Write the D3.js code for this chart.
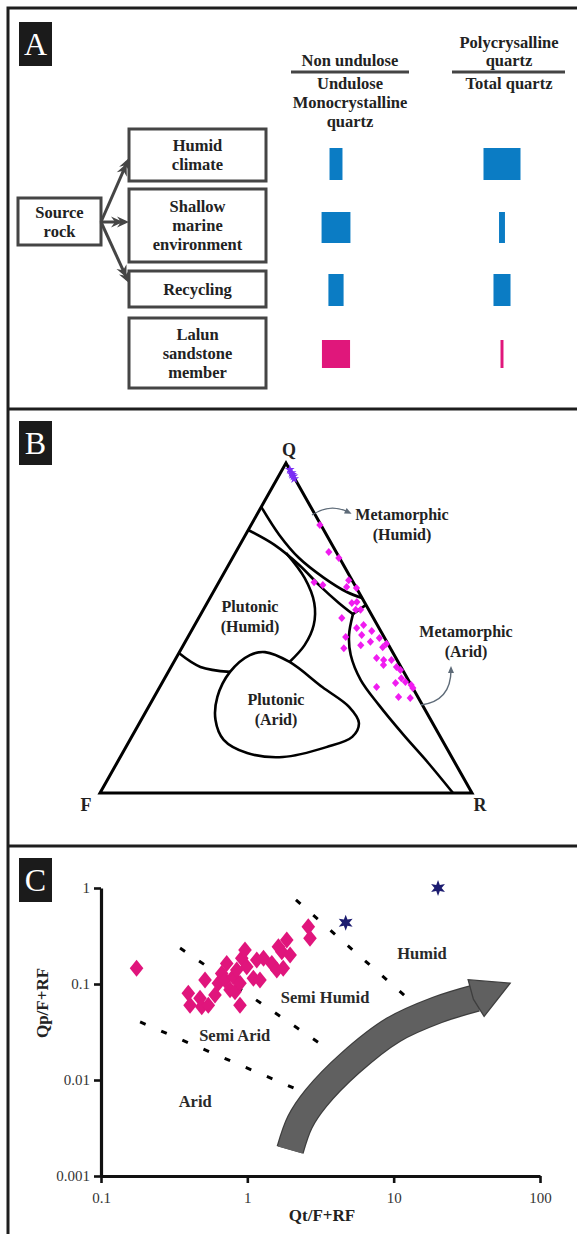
<!DOCTYPE html>
<html>
<head>
<meta charset="utf-8">
<script src="https://cdn.jsdelivr.net/npm/d3@7"></script>
<style>
  body { margin: 0; background: #fff; }
  svg text { font-family: "Liberation Serif", "Times New Roman", serif; }
</style>
</head>
<body>
<div id="fig"></div>
<script>
// ---------- data ----------
// panel A: relative quartz ratios for each setting
var processLines = [["Humid", "climate"], ["Shallow", "marine", "environment"], ["Recycling"], ["Lalun", "sandstone", "member"]];
var nonUndulose = [0.35, 0.78, 0.41, 0.76];
var polyQuartz = [1.0, 0.16, 0.46, 0.08];
var barColors = ["#0b7cc4", "#0b7cc4", "#0b7cc4", "#e0177b"];

// panel B: samples as [Q, R] percent (F = 100 - Q - R)
var lalunQR = [
  [81.2, 18.5], [73.0, 25.0], [71.2, 28.6], [63.9, 25.6], [63.0, 28.4], [64.5, 34.6],
  [62.4, 35.1], [62.1, 37.9], [57.9, 40.1], [55.5, 41.0], [57.6, 38.9], [55.5, 42.3],
  [53.0, 38.5], [50.0, 44.0], [50.9, 45.4], [49.1, 48.5], [47.3, 42.4], [47.9, 46.4],
  [47.0, 51.6], [43.9, 43.6], [44.8, 47.7], [45.8, 49.8], [44.2, 53.9], [45.2, 54.4],
  [40.9, 53.9], [40.3, 56.1], [40.3, 58.2], [38.8, 56.8], [38.2, 60.6], [37.3, 62.1],
  [34.8, 63.6], [33.3, 62.8], [32.1, 58.3], [32.7, 67.3], [31.8, 68.2], [29.1, 65.7],
  [28.8, 69.0], [33.6, 65.3]
];
var quartzAreniteQR = [[98, 2], [97, 3], [96.5, 3.4], [96, 4], [95.2, 4.6]];

// panel B: field boundaries as [Q, R] percent
var metHumidUpper = [[86.7, 0], [78.2, 9.1], [71.2, 17.9], [65.2, 27.6], [60.9, 35.9], [59.1, 40.9]];
var metHumidLower = [[79.7, 0], [75.2, 9.3], [69.1, 19.0], [63.0, 27.4], [57.6, 35.4], [54.2, 40.9]];
var junction = [[54.2, 40.9], [57.0, 43.0]];
var metAridEdge = [[54.2, 40.9], [47.9, 43.0], [41.8, 46.5], [34.2, 53.0], [26.7, 61.6], [17.6, 72.8], [9.1, 83.7], [0, 94.9]];
var plutHumidBase = [[42.4, 0], [38.2, 7.9], [36.7, 16.6]];
var plutHumidEdge = [[72.7, 13.7], [65.2, 22.4], [57.6, 28.8], [50.9, 32.0], [44.8, 32.6], [39.7, 31.1]];
var plutArid = [[41.8, 19.4], [36.7, 16.6], [29.1, 17.0], [22.1, 20.0], [16.1, 25.2], [12.1, 33.5],
  [10.9, 43.7], [13.9, 53.9], [17.0, 59.3], [21.2, 59.0], [26.1, 53.9], [32.1, 43.7], [39.7, 31.1], [42.7, 23.0]];

// panel C: Qt/F+RF vs Qp/F+RF
var qtRatio = [0.175, 0.395, 0.406, 0.475, 0.514, 0.488, 0.541, 0.601, 0.634, 0.668, 0.704, 0.723,
  0.762, 0.802, 0.824, 0.847, 0.891, 0.891, 0.916, 0.964, 0.991, 1.10, 1.16, 1.22, 1.29, 1.47,
  1.59, 1.63, 1.72, 1.76, 1.86, 1.96, 2.61, 2.68];
var qpRatio = [0.146, 0.080, 0.060, 0.071, 0.110, 0.058, 0.060, 0.077, 0.102, 0.129, 0.110, 0.164,
  0.087, 0.119, 0.083, 0.140, 0.102, 0.060, 0.185, 0.226, 0.151, 0.115, 0.178, 0.110, 0.185, 0.164,
  0.140, 0.245, 0.217, 0.146, 0.287, 0.200, 0.395, 0.299];
var starQt = [4.7, 20.1];
var starQp = [0.435, 1.0];
var climateLines = [
  [[2.15, 0.75], [12.4, 0.0715]],
  [[0.347, 0.237], [3.24, 0.0232]],
  [[0.185, 0.0402], [2.15, 0.00806]]
];
var climateLabels = [["Humid", 15.6, 0.21], ["Semi Humid", 3.4, 0.073], ["Semi Arid", 0.82, 0.029], ["Arid", 0.44, 0.0059]];
var trendPath = [[1.96, 0.00187], [2.29, 0.00365], [2.95, 0.00649], [5.04, 0.015], [9.9, 0.0332], [19.8, 0.0536], [36.6, 0.0715]];
var trendTip = [62.5, 0.102];
var xTicks = [0.1, 1, 10, 100];
var yTicks = [0.001, 0.01, 0.1, 1];

// ---------- drawing ----------
var width = 577, height = 1234;
var svg = d3.select("#fig").append("svg").attr("width", width).attr("height", height);
svg.append("rect").attr("width", width).attr("height", height).attr("fill", "#fff");

var ink = "#1e1e1e";
var bold = function(sel, size) { return sel.attr("font-weight", "bold").attr("font-size", size).attr("fill", "#222"); };

// panel frames
svg.append("path").attr("d", "M8," + height + "V8H" + width)
  .attr("fill", "none").attr("stroke", ink).attr("stroke-width", 3);
[409, 846].forEach(function(y) {
  svg.append("line").attr("x1", 8).attr("x2", width).attr("y1", y).attr("y2", y)
    .attr("stroke", ink).attr("stroke-width", 3);
});
[["A", 22], ["B", 421], ["C", 858]].forEach(function(p) {
  svg.append("rect").attr("x", 19).attr("y", p[1]).attr("width", 33).attr("height", 44).attr("fill", "#1b1b1b");
  svg.append("text").attr("x", 35.5).attr("y", p[1] + 33).attr("text-anchor", "middle")
    .attr("font-size", 32).attr("fill", "#fff").text(p[0]);
});

// ===== panel A =====
var gA = svg.append("g");
var headers = [
  { cx: 350, top: ["Non undulose"], bottom: ["Undulose", "Monocrystalline", "quartz"], x1: 291, x2: 409 },
  { cx: 509, top: ["Polycrysalline", "quartz"], bottom: ["Total quartz"], x1: 452, x2: 565 }
];
headers.forEach(function(h) {
  h.top.forEach(function(t, i) {
    bold(gA.append("text"), 16.5).attr("x", h.cx).attr("y", 66 - (h.top.length - 1 - i) * 18)
      .attr("text-anchor", "middle").text(t);
  });
  gA.append("line").attr("x1", h.x1).attr("x2", h.x2).attr("y1", 72).attr("y2", 72)
    .attr("stroke", "#444").attr("stroke-width", 3);
  h.bottom.forEach(function(t, i) {
    bold(gA.append("text"), 16.5).attr("x", h.cx).attr("y", 89 + i * 19)
      .attr("text-anchor", "middle").text(t);
  });
});

var boxX = 129, boxW = 137;
var boxY = [129, 189, 271, 318], boxH = [52, 73, 36, 70];
var boxStroke = "#454545";
processLines.forEach(function(lines, i) {
  gA.append("rect").attr("x", boxX).attr("y", boxY[i]).attr("width", boxW).attr("height", boxH[i])
    .attr("fill", "none").attr("stroke", boxStroke).attr("stroke-width", 3);
  var cy = boxY[i] + boxH[i] / 2;
  lines.forEach(function(t, j) {
    bold(gA.append("text"), 16.5).attr("x", boxX + boxW / 2)
      .attr("y", cy - (lines.length - 1) * 9.5 + 5.5 + j * 19).attr("text-anchor", "middle").text(t);
  });
});
gA.append("rect").attr("x", 18).attr("y", 198).attr("width", 83).attr("height", 47)
  .attr("fill", "none").attr("stroke", boxStroke).attr("stroke-width", 3);
["Source", "rock"].forEach(function(t, j) {
  bold(gA.append("text"), 16.5).attr("x", 59.5).attr("y", 217.5 + j * 19).attr("text-anchor", "middle").text(t);
});

// arrows from source rock to each setting
function chevron(g, x, y, ang) {
  var pts = [[0, 0], [-12, -5.5], [-8, 0], [-12, 5.5]].map(function(p) {
    return [x + p[0] * Math.cos(ang) - p[1] * Math.sin(ang), y + p[0] * Math.sin(ang) + p[1] * Math.cos(ang)];
  });
  g.append("path").attr("d", "M" + pts.join("L") + "Z").attr("fill", boxStroke);
}
var arrowEnds = [[boxX, 158], [boxX, 222], [boxX, 283]];
arrowEnds.forEach(function(e) {
  var sx = 101, sy = 222;
  var ang = Math.atan2(e[1] - sy, e[0] - sx);
  gA.append("line").attr("x1", sx).attr("y1", sy).attr("x2", e[0] - 4 * Math.cos(ang)).attr("y2", e[1] - 4 * Math.sin(ang))
    .attr("stroke", boxStroke).attr("stroke-width", 3);
  chevron(gA, e[0], e[1], ang);
  chevron(gA, e[0] - 6 * Math.cos(ang), e[1] - 6 * Math.sin(ang), ang);
});

// ratio bars
var barW = d3.scaleLinear().domain([0, 1]).range([0, 37]);
var barY = [148, 212, 274, 340], barH = [32, 31, 32, 28];
[[nonUndulose, 336], [polyQuartz, 502]].forEach(function(col) {
  gA.selectAll(null).data(col[0]).enter().append("rect")
    .attr("x", function(d) { return col[1] - barW(d) / 2; })
    .attr("y", function(d, i) { return barY[i]; })
    .attr("width", function(d) { return barW(d); })
    .attr("height", function(d, i) { return barH[i]; })
    .attr("fill", function(d, i) { return barColors[i]; });
});

// ===== panel B: QFR ternary =====
var gB = svg.append("g");
var qScale = d3.scaleLinear().domain([0, 100]).range([793, 463]);
var sScale = d3.scaleLinear().domain([0, 100]).range([100, 472]);
function tern(d) { return [sScale(d[1] + d[0] / 2), qScale(d[0])]; }
var straight = d3.line().x(function(d) { return tern(d)[0]; }).y(function(d) { return tern(d)[1]; });
var curvy = d3.line().x(function(d) { return tern(d)[0]; }).y(function(d) { return tern(d)[1]; })
  .curve(d3.curveCatmullRom.alpha(0.5));
var closedCurvy = d3.line().x(function(d) { return tern(d)[0]; }).y(function(d) { return tern(d)[1]; })
  .curve(d3.curveCatmullRomClosed.alpha(0.5));

gB.append("path").attr("d", straight([[100, 0], [0, 0], [0, 100]]) + "Z")
  .attr("fill", "none").attr("stroke", "#000").attr("stroke-width", 3).attr("stroke-linejoin", "miter");

[metHumidUpper, metHumidLower, metAridEdge, plutHumidBase, plutHumidEdge].forEach(function(c) {
  gB.append("path").attr("d", curvy(c)).attr("fill", "none").attr("stroke", "#000").attr("stroke-width", 2.6);
});
gB.append("path").attr("d", straight(junction))
  .attr("fill", "none").attr("stroke", "#000").attr("stroke-width", 2.6);
gB.append("path").attr("d", closedCurvy(plutArid))
  .attr("fill", "none").attr("stroke", "#000").attr("stroke-width", 2.6);

// samples
gB.selectAll(".lal").data(lalunQR).enter().append("path")
  .attr("d", "M0,-4L3.6,0L0,4L-3.6,0Z")
  .attr("transform", function(d) { return "translate(" + tern(d) + ")"; })
  .attr("fill", "#f01cf0");
var smallStar = d3.symbol().type(d3.symbolStar).size(30);
gB.selectAll(".qa").data(quartzAreniteQR).enter().append("path")
  .attr("d", smallStar())
  .attr("transform", function(d) { return "translate(" + tern(d) + ")"; })
  .attr("fill", "#7a2cf5");

// labels
bold(gB.append("text"), 18).attr("x", 289).attr("y", 456).attr("text-anchor", "middle").text("Q");
bold(gB.append("text"), 18).attr("x", 86).attr("y", 811).attr("text-anchor", "middle").text("F");
bold(gB.append("text"), 18).attr("x", 480).attr("y", 811).attr("text-anchor", "middle").text("R");
[["Metamorphic", "(Humid)", 402, 520], ["Plutonic", "(Humid)", 250, 612], ["Plutonic", "(Arid)", 276, 705], ["Metamorphic", "(Arid)", 466, 637]]
  .forEach(function(l) {
    bold(gB.append("text"), 16).attr("x", l[2]).attr("y", l[3]).attr("text-anchor", "middle").text(l[0]);
    bold(gB.append("text"), 16).attr("x", l[2]).attr("y", l[3] + 20).attr("text-anchor", "middle").text(l[1]);
  });
// pointer arrows
var pointerCol = "#5e6b78";
[["M312,515Q330,503 348,512", 348, 512, 0.45], ["M421,705Q451,701 451,670", 451, 670, -1.57]].forEach(function(p) {
  gB.append("path").attr("d", p[0]).attr("fill", "none").attr("stroke", pointerCol).attr("stroke-width", 1.4);
  var a = p[3], x = p[1], y = p[2];
  gB.append("path").attr("d", "M" + (x + 4 * Math.cos(a)) + "," + (y + 4 * Math.sin(a)) +
      "L" + (x - 3 * Math.cos(a) - 3 * Math.sin(a)) + "," + (y - 3 * Math.sin(a) + 3 * Math.cos(a)) +
      "L" + (x - 3 * Math.cos(a) + 3 * Math.sin(a)) + "," + (y - 3 * Math.sin(a) - 3 * Math.cos(a)) + "Z")
    .attr("fill", pointerCol);
});

// ===== panel C: log-log =====
var gC = svg.append("g");
var xC = d3.scaleLog().domain([0.1, 100]).range([101, 540]);
var yC = d3.scaleLog().domain([0.001, 1]).range([1176, 888]);

// climate boundaries
gC.selectAll(".dl").data(climateLines).enter().append("line")
  .attr("x1", function(d) { return xC(d[0][0]); }).attr("y1", function(d) { return yC(d[0][1]); })
  .attr("x2", function(d) { return xC(d[1][0]); }).attr("y2", function(d) { return yC(d[1][1]); })
  .attr("stroke", "#000").attr("stroke-width", 3).attr("stroke-dasharray", "6,17");

climateLabels.forEach(function(l) {
  bold(gC.append("text"), 16.5).attr("x", xC(l[1])).attr("y", yC(l[2]) + 5.5)
    .attr("text-anchor", "middle").attr("fill", "#2a2a2a").text(l[0]);
});

// trend arrow
var trendLine = d3.line().x(function(d) { return xC(d[0]); }).y(function(d) { return yC(d[1]); })
  .curve(d3.curveCatmullRom.alpha(0.5));
gC.append("path").attr("d", trendLine(trendPath)).attr("fill", "none").attr("stroke", "#3e3e3e").attr("stroke-width", 28);
gC.append("path").attr("d", trendLine(trendPath)).attr("fill", "none").attr("stroke", "#606060").attr("stroke-width", 25.5);
(function() {
  var e = trendPath[trendPath.length - 1];
  var bx = xC(e[0]), by = yC(e[1]), tx = xC(trendTip[0]), ty = yC(trendTip[1]);
  var a = Math.atan2(ty - by, tx - bx), hw = 20;
  var pts = [[tx, ty], [bx + hw * Math.sin(a), by - hw * Math.cos(a)], [bx - 3 * Math.cos(a), by - 3 * Math.sin(a)], [bx - hw * Math.sin(a), by + hw * Math.cos(a)]];
  gC.append("path").attr("d", "M" + pts.join("L") + "Z").attr("fill", "#606060")
    .attr("stroke", "#3e3e3e").attr("stroke-width", 1.3).attr("stroke-linejoin", "miter");
})();

// samples
gC.selectAll(".pt").data(qtRatio).enter().append("path")
  .attr("d", "M0,-8.5L6.8,0L0,8.5L-6.8,0Z")
  .attr("transform", function(d, i) { return "translate(" + xC(d) + "," + yC(qpRatio[i]) + ")"; })
  .attr("fill", "#e0157c");
var star6 = d3.range(12).map(function(i) {
  var r = i % 2 ? 3.6 : 8, a = i * Math.PI / 6 - Math.PI / 2;
  return [r * Math.cos(a), r * Math.sin(a)];
});
gC.selectAll(".st").data(starQt).enter().append("path")
  .attr("d", "M" + star6.join("L") + "Z")
  .attr("transform", function(d, i) { return "translate(" + xC(d) + "," + yC(starQp[i]) + ")"; })
  .attr("fill", "#1c1c70");

// axes
var fmt = function(d) { return String(d); };
var xAxis = gC.append("g").attr("transform", "translate(0,1176)")
  .call(d3.axisBottom(xC).tickValues(xTicks).tickFormat(fmt).tickSize(7).tickSizeOuter(0));
var yAxis = gC.append("g").attr("transform", "translate(101,0)")
  .call(d3.axisLeft(yC).tickValues(yTicks).tickFormat(fmt).tickSize(7).tickSizeOuter(0));
[xAxis, yAxis].forEach(function(ax) {
  ax.select(".domain").attr("stroke", "#111").attr("stroke-width", 3.2);
  ax.selectAll(".tick line").attr("stroke", "#111").attr("stroke-width", 2.6);
  ax.selectAll(".tick text").attr("font-family", "Liberation Serif, Times New Roman, serif")
    .attr("font-size", 15).attr("fill", "#333");
});
xAxis.selectAll(".tick text").attr("dy", "1.15em");
yAxis.selectAll(".tick text").attr("x", -11);

bold(gC.append("text"), 17).attr("x", 322).attr("y", 1221).attr("text-anchor", "middle").text("Qt/F+RF");
bold(gC.append("text"), 17).attr("transform", "translate(48,1003)rotate(-90)").attr("text-anchor", "middle").text("Qp/F+RF");
</script>
</body>
</html>
